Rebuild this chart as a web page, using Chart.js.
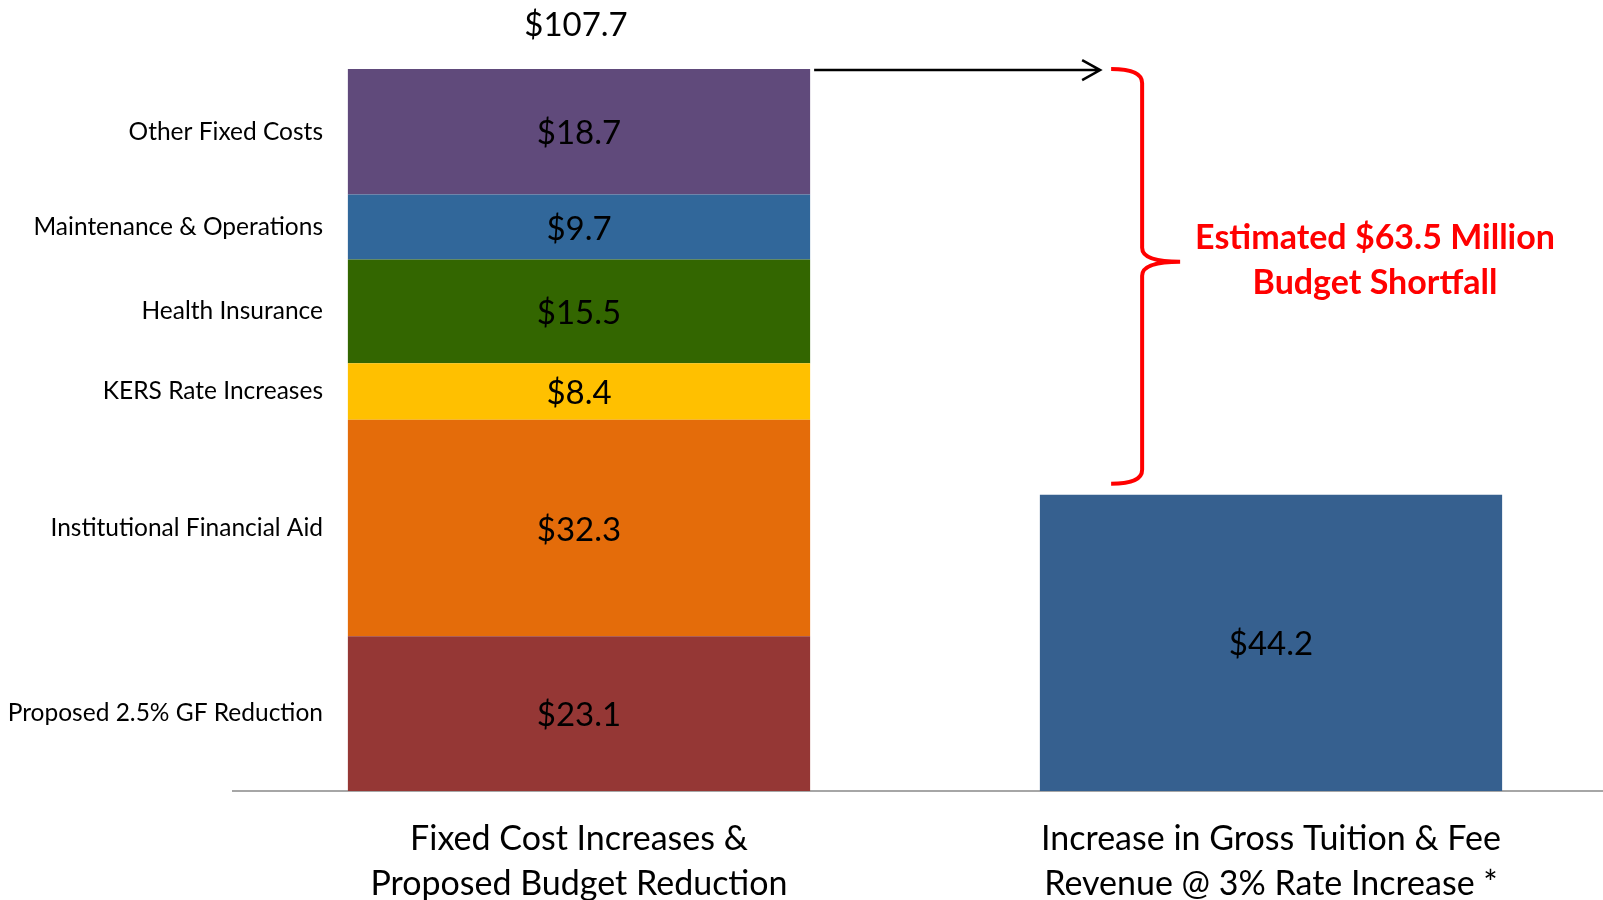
<!DOCTYPE html>
<html>
<head>
<meta charset="utf-8">
<title>Budget Shortfall</title>
<script src="https://cdn.jsdelivr.net/npm/chart.js"></script>
<style>
  html, body { margin: 0; padding: 0; background: #fff; overflow: hidden; }
  #mycanvas { display: block; }
</style>
</head>
<body>
<canvas id="mycanvas" width="1617" height="900"></canvas>
<script>
// categories on the x axis
var categories = [
  ['Fixed Cost Increases &', 'Proposed Budget Reduction'],
  ['Increase in Gross Tuition & Fee', 'Revenue @ 3% Rate Increase *']
];

// stacked pieces of the first bar, bottom to top ($ millions)
var costNames = [
  'Proposed 2.5% GF Reduction',
  'Institutional Financial Aid',
  'KERS Rate Increases',
  'Health Insurance',
  'Maintenance & Operations',
  'Other Fixed Costs'
];
var costValues = [23.1, 32.3, 8.4, 15.5, 9.7, 18.7];
var costColors = ['#953735', '#E46C0A', '#FFC000', '#336600', '#31679A', '#604A7B'];

// second bar
var tuitionValue = 44.2;
var tuitionColor = '#36608F';

var totalCost = 107.7;
var shortfallText = ['Estimated $63.5 Million', 'Budget Shortfall'];

var datasets = [];
for (var i = 0; i < costValues.length; i++) {
  datasets.push({
    label: costNames[i],
    data: [costValues[i], null],
    backgroundColor: costColors[i],
    stack: 's'
  });
}
datasets.push({
  label: 'Tuition & Fee Revenue',
  data: [null, tuitionValue],
  backgroundColor: tuitionColor,
  stack: 's'
});

function money(v) {
  return '$' + v.toFixed(1);
}

var labelPlugin = {
  id: 'labels',
  afterDatasetsDraw: function(chart) {
    var ctx = chart.ctx;
    var y = chart.scales.y;
    ctx.save();
    ctx.textBaseline = 'middle';

    // value labels inside the bars + names on the left
    for (var i = 0; i < chart.data.datasets.length; i++) {
      var ds = chart.data.datasets[i];
      var meta = chart.getDatasetMeta(i);
      for (var j = 0; j < ds.data.length; j++) {
        if (ds.data[j] == null) continue;
        var bar = meta.data[j];
        var cy = (bar.y + bar.base) / 2;
        ctx.fillStyle = '#000';
        ctx.textAlign = 'center';
        ctx.font = '33px Lato';
        ctx.fillText(money(ds.data[j]), bar.x, cy + 2);
        if (j === 0) {
          ctx.textAlign = 'right';
          ctx.font = '24.5px Lato';
          ctx.fillText(ds.label, 323, cy);
        }
      }
    }

    // total above first bar
    var first = chart.getDatasetMeta(0).data[0];
    var topY = y.getPixelForValue(totalCost);
    ctx.textAlign = 'center';
    ctx.font = '33px Lato';
    ctx.fillText(money(totalCost), first.x - 3, topY - 44);

    // arrow from top of stack
    var barRight = first.x + first.width / 2;
    var braceX = barRight + 301;
    ctx.strokeStyle = '#000';
    ctx.lineWidth = 2.5;
    ctx.beginPath();
    ctx.moveTo(barRight + 4, topY + 1);
    ctx.lineTo(braceX - 11, topY + 1);
    ctx.moveTo(braceX - 29, topY - 9);
    ctx.lineTo(braceX - 11, topY + 1);
    ctx.lineTo(braceX - 29, topY + 11);
    ctx.stroke();

    // red curly brace from total down to just above the tuition bar
    var botY = y.getPixelForValue(tuitionValue) - 11;
    var tipY = topY + (botY - topY) * 0.465;
    var sx = braceX + 31;
    var tx = braceX + 69;
    ctx.strokeStyle = '#FF0000';
    ctx.lineWidth = 4;
    ctx.beginPath();
    ctx.moveTo(braceX, topY);
    ctx.quadraticCurveTo(sx, topY, sx, topY + 14);
    ctx.lineTo(sx, tipY - 14);
    ctx.quadraticCurveTo(sx, tipY, tx, tipY);
    ctx.quadraticCurveTo(sx, tipY, sx, tipY + 14);
    ctx.lineTo(sx, botY - 14);
    ctx.quadraticCurveTo(sx, botY, braceX, botY);
    ctx.stroke();

    ctx.fillStyle = '#FF0000';
    ctx.font = 'bold 34px Lato';
    ctx.textAlign = 'center';
    ctx.fillText(shortfallText[0], 1375, tipY - 24);
    ctx.fillText(shortfallText[1], 1375, tipY + 21);
    ctx.restore();
  }
};

var ctx = document.getElementById('mycanvas');

var barGraph = new Chart(ctx, {
  type: 'bar',
  data: {
    labels: categories,
    datasets: datasets
  },
  options: {
    responsive: false,
    animation: false,
    layout: { padding: { left: 233, right: 0, top: 0, bottom: 0 } },
    plugins: {
      legend: { display: false },
      tooltip: { enabled: false }
    },
    datasets: {
      bar: { categoryPercentage: 1, barPercentage: 0.668 }
    },
    scales: {
      x: {
        stacked: true,
        grid: { display: false, drawTicks: false },
        border: { display: true, color: '#A6A6A6', width: 2 },
        ticks: {
          color: '#000',
          font: { family: 'Lato', size: 34, lineHeight: 1.32 },
          padding: 26,
          maxRotation: 0
        },
        afterFit: function(scale) { scale.height = 109; }
      },
      y: {
        stacked: true,
        display: false,
        min: 0,
        max: 118
      }
    }
  },
  plugins: [labelPlugin]
});
</script>
</body>
</html>
